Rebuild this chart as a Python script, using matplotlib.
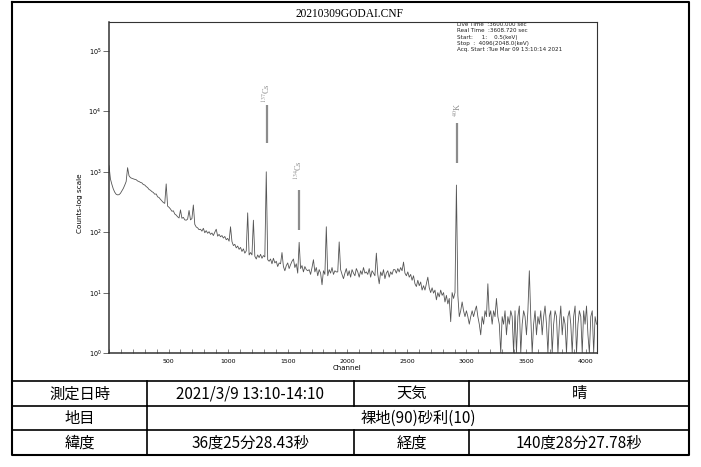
import numpy as np
import matplotlib.pyplot as plt
from matplotlib.ticker import FixedLocator, MultipleLocator, NullLocator

plt.rcParams['font.family'] = ['DejaVu Sans']

W, H = 701, 467

title = '20210309GODAI.CNF'

# spectrum counts, one value every 12 channels (0 .. 4092)
step = 12
counts = [
    1260, 760, 620, 520, 460, 425, 415, 418, 440, 485, 530, 600, 690, 1170, 860, 800, 780, 765, 750, 740,
    705, 690, 668, 655, 615, 605, 570, 548, 510, 495, 470, 455, 425, 430, 385, 375, 350, 330, 310, 300,
    630, 270, 258, 242, 222, 226, 200, 192, 180, 172, 234, 170, 176, 160, 158, 165, 229, 160, 168, 282,
    135, 122, 118, 110, 112, 104, 116, 98, 106, 96, 102, 92, 97, 88, 100, 112, 86, 92, 84, 88,
    80, 85, 75, 79, 71, 123, 70, 60, 63, 55, 59, 52, 56, 48, 53, 45, 49, 209, 42, 46,
    42, 158, 40, 36, 42, 38, 43, 37, 41, 39, 1000, 35, 33, 36, 30, 37, 31, 33, 27, 31,
    30, 46, 27, 23, 28, 31, 25, 29, 33, 36, 26, 30, 21, 68, 25, 28, 22, 27, 24, 23,
    24, 20, 26, 35, 22, 26, 19, 24, 21, 13.5, 23, 20, 123, 19, 24, 21, 26, 20, 23, 22,
    22, 69, 24, 20, 17, 21, 25, 19, 23, 18, 24, 21, 19, 25, 22, 18, 23, 20, 26, 21,
    22, 20, 25, 18, 23, 21, 19, 45, 20, 14, 22, 19, 24, 17, 21, 23, 18, 22, 20, 24,
    24, 21, 25, 22, 26, 23, 32, 21, 19, 22, 18, 20, 16, 19, 14, 12.6, 16, 13, 15, 11,
    13, 11, 14, 18, 12, 10, 12, 9.8, 11, 7.6, 10, 8.5, 11, 9, 10, 7, 9, 6.5, 8, 3.3,
    10, 8, 10, 603, 9, 4, 5, 7, 5, 4, 5, 4, 3, 4, 5, 4, 5, 6, 4, 3,
    2, 4, 3, 5, 4, 14, 4, 5, 3, 5, 4, 8, 4, 3, 1, 4, 3, 5, 2, 4,
    3, 5, 4, 1, 5, 1, 4, 6, 1, 3, 5, 4, 2, 5, 23, 4, 1, 3, 5, 2,
    4, 3, 5, 2, 4, 6, 3, 1, 4, 5, 1, 3, 5, 4, 1, 3, 6, 2, 4, 3,
    1, 4, 5, 3, 1, 4, 6, 1, 3, 5, 4, 1, 5, 3, 6, 2, 1, 4, 5, 1,
    4, 3,
]
channels = np.arange(len(counts)) * step

peak_labels = [r'$^{137}$Cs', r'$^{134}$Cs', r'$^{40}$K']
peak_channels = [1324, 1592, 2921]

info_lines = [
    'Live Time  :3600.000 sec',
    'Real Time  :3608.720 sec',
    'Start:     1:    0.5(keV)',
    'Stop  :  4096(2048.0(keV)',
    'Acq. Start :Tue Mar 09 13:10:14 2021',
]

table_rows = [
    ['測定日時', '2021/3/9 13:10-14:10', '天気', '晴'],
    ['地目', '裸地(90)砂利(10)'],
    ['緯度', '36度25分28.43秒', '経度', '140度28分27.78秒'],
]

fig = plt.figure(figsize=(W / 100, H / 100), dpi=100)

# pixel-space layer for the frame, title and table
bg = fig.add_axes([0, 0, 1, 1], zorder=0)
bg.set_xlim(0, W)
bg.set_ylim(H, 0)
bg.axis('off')

left, right, top, bottom = 12, 689, 2, 454.5
row_y = [381, 405.5, 430, 454.5]
col_x = [147, 354, 469]

bg.plot([left, right, right, left, left], [top, top, bottom, bottom, top], color='black', lw=1.5)
for y in row_y[:-1]:
    bg.plot([left, right], [y, y], color='black', lw=1.2)
for r, cells in enumerate(table_rows):
    y0, y1 = row_y[r], row_y[r + 1]
    xs = [left] + col_x + [right] if len(cells) == 4 else [left, col_x[0], right]
    for x in xs[1:-1]:
        bg.plot([x, x], [y0, y1], color='black', lw=1.2)
    for c, txt in enumerate(cells):
        bg.text((xs[c] + xs[c + 1]) / 2, (y0 + y1) / 2 + 0.5, txt, ha='center', va='center',
                fontsize=11, family=['Noto Sans CJK JP', 'DejaVu Sans'])

bg.text(350, 14, title, ha='center', va='center', family='Liberation Serif', fontsize=8.3)
for k, line in enumerate(info_lines):
    bg.text(457, 25 + 6 * k, line, ha='left', va='center', fontsize=4.1, color='#222222')

# spectrum axes
ax_l, ax_r, ax_t, ax_b = 109, 597, 22, 353
ax = fig.add_axes([ax_l / W, 1 - ax_b / H, (ax_r - ax_l) / W, (ax_b - ax_t) / H], zorder=1)
ax.patch.set_alpha(0)
ax.plot(channels, counts, color='#555555', lw=0.6)
ax.set_yscale('log')
ax.set_xlim(0, 4096)
ax.set_ylim(1, 10 ** ((ax_b - ax_t) / 60.4))

ax.xaxis.set_major_locator(FixedLocator(range(500, 4001, 500)))
ax.xaxis.set_minor_locator(MultipleLocator(100))
ax.yaxis.set_major_locator(FixedLocator([1, 10, 100, 1e3, 1e4, 1e5]))
ax.yaxis.set_minor_locator(NullLocator())
ax.tick_params(axis='x', which='both', direction='in', length=3, width=0.5, color='#555555',
               labelsize=4.5, pad=4)
ax.tick_params(axis='y', direction='out', length=4, width=0.6, color='#555555', labelsize=4.7, pad=1.5)
for s in ['top', 'right']:
    ax.spines[s].set_linewidth(0.8)
for s in ['left', 'bottom']:
    ax.spines[s].set_linewidth(1.1)
for s in ax.spines.values():
    s.set_color('#333333')

ax.set_xlabel('Channel', fontsize=5)
ax.xaxis.set_label_coords(0.488, -0.037)
ax.set_ylabel('Counts-log scale', fontsize=5.2)
ax.yaxis.set_label_coords(-0.054, 0.453)

# nuclide markers above the peaks
bar_spans = [(3000, 12760), (109, 500), (1400, 6430)]
label_base = [13800, 730, 8100]
for ch, lab, (lo, hi), yb in zip(peak_channels, peak_labels, bar_spans, label_base):
    ax.vlines(ch, lo, hi, color='#8c8c8c', lw=1.6)
    ax.text(ch, yb, lab, rotation=90, ha='center', va='bottom', fontsize=6, color='#8c8c8c',
            family='Liberation Serif', math_fontfamily='stix')

fig.savefig('out.png', dpi=100)
